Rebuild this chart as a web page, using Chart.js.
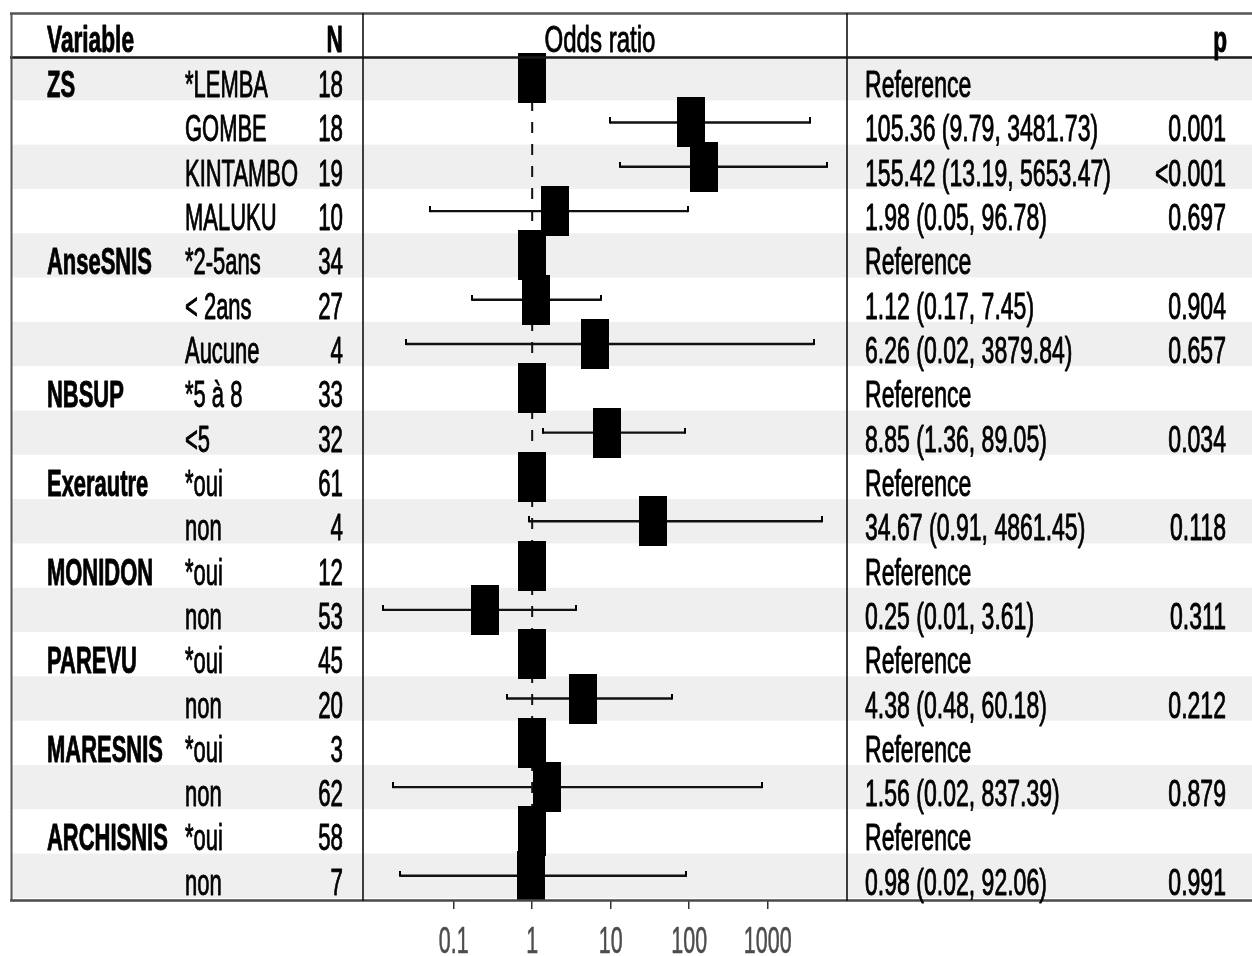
<!DOCTYPE html>
<html><head><meta charset="utf-8">
<script src="https://cdn.jsdelivr.net/npm/chart.js@4.4.0/dist/chart.umd.min.js"></script>
<style>html,body{margin:0;padding:0;background:#fff;}#wrap{width:1252px;height:956px;}</style>
</head><body><div id="wrap"><canvas id="c" width="1252" height="956"></canvas></div>
<script>
const headers = ['Variable', 'N', 'Odds ratio', 'p'];
const variables = ['ZS','','','','AnseSNIS','','','NBSUP','','Exerautre','','MONIDON','','PAREVU','','MARESNIS','','ARCHISNIS',''];
const levels = ['*LEMBA','GOMBE','KINTAMBO','MALUKU','*2-5ans','< 2ans','Aucune','*5 à 8','<5','*oui','non','*oui','non','*oui','non','*oui','non','*oui','non'];
const counts = [18,18,19,10,34,27,4,33,32,61,4,12,53,45,20,3,62,58,7];
const oddsRatio = [1,105.36,155.42,1.98,1,1.12,6.26,1,8.85,1,34.67,1,0.25,1,4.38,1,1.56,1,0.98];
const ciLow = [null,9.79,13.19,0.05,null,0.17,0.025,null,1.36,null,0.91,null,0.0125,null,0.48,null,0.017,null,0.021];
const ciHigh = [null,3481.73,5653.47,96.78,null,7.45,3879.84,null,89.05,null,4861.45,null,3.61,null,60.18,null,837.39,null,92.06];
const estimateLabels = ['Reference','105.36 (9.79, 3481.73)','155.42 (13.19, 5653.47)','1.98 (0.05, 96.78)','Reference','1.12 (0.17, 7.45)','6.26 (0.02, 3879.84)','Reference','8.85 (1.36, 89.05)','Reference','34.67 (0.91, 4861.45)','Reference','0.25 (0.01, 3.61)','Reference','4.38 (0.48, 60.18)','Reference','1.56 (0.02, 837.39)','Reference','0.98 (0.02, 92.06)'];
const pLabels = ['','0.001','<0.001','0.697','','0.904','0.657','','0.034','','0.118','','0.311','','0.212','','0.879','','0.991'];
const tickValues = [0.1, 1, 10, 100, 1000];

const FONT = '"Liberation Sans", Arial, sans-serif';

function makeBox(w, h, fillH) {
  const c = document.createElement('canvas');
  c.width = w; c.height = h;
  const g = c.getContext('2d');
  g.fillStyle = '#000';
  g.fillRect(0, 0, w, fillH === undefined ? h : fillH);
  return c;
}
const squareImg = makeBox(28, 50);
const capImg = makeBox(2, 10, 6);

function txt(ctx, s, x, y, align, bold, sx, size, color, sw) {
  ctx.save();
  ctx.font = (bold ? 'bold ' : '') + size + 'px ' + FONT;
  ctx.fillStyle = color;
  ctx.strokeStyle = color;
  ctx.lineWidth = sw === undefined ? 0.9 : sw;
  ctx.lineJoin = 'round';
  ctx.textBaseline = 'alphabetic';
  ctx.textAlign = align;
  ctx.translate(x, y);
  ctx.scale(sx, 1);
  ctx.fillText(s, 0, 0);
  if (ctx.lineWidth > 0) ctx.strokeText(s, 0, 0);
  ctx.restore();
}

const tablePlugin = {
  id: 'table',
  beforeDraw(chart) {
    const ctx = chart.ctx, ys = chart.scales.y, ca = chart.chartArea;
    ctx.save();
    ctx.fillStyle = '#efefef';
    for (let i = 1; i <= levels.length; i += 2) {
      let t = Math.max(ca.top, ys.getPixelForValue(i - 0.5));
      let b = Math.min(ca.bottom, ys.getPixelForValue(i + 0.5));
      ctx.fillRect(11, t, 1252 - 11, b - t);
    }
    ctx.restore();
  },
  afterDraw(chart) {
    const ctx = chart.ctx, ys = chart.scales.y, xs = chart.scales.x;
    ctx.save();
    ctx.lineCap = 'butt';
    ctx.strokeStyle = '#555'; ctx.lineWidth = 2.5;
    ctx.beginPath(); ctx.moveTo(10, 13.5); ctx.lineTo(1252, 13.5); ctx.stroke();
    ctx.strokeStyle = '#4a4a4a';
    ctx.beginPath(); ctx.moveTo(10, 900.5); ctx.lineTo(1252, 900.5); ctx.stroke();
    ctx.strokeStyle = '#1a1a1a';
    ctx.beginPath(); ctx.moveTo(10, 57.5); ctx.lineTo(1252, 57.5); ctx.stroke();
    ctx.strokeStyle = '#555'; ctx.lineWidth = 2;
    ctx.beginPath(); ctx.moveTo(11.5, 13); ctx.lineTo(11.5, 901); ctx.stroke();
    ctx.strokeStyle = '#111'; ctx.lineWidth = 1.6;
    ctx.beginPath(); ctx.moveTo(363, 13); ctx.lineTo(363, 901); ctx.stroke();
    ctx.beginPath(); ctx.moveTo(847, 13); ctx.lineTo(847, 901); ctx.stroke();
    ctx.restore();
    txt(ctx, headers[0], 47, 52, 'left', true, 0.63, 36, '#000');
    txt(ctx, headers[1], 343, 52, 'right', true, 0.63, 36, '#000');
    txt(ctx, headers[2], 600, 52, 'center', false, 0.65, 37, '#000');
    txt(ctx, headers[3], 1227, 52, 'right', true, 0.63, 36, '#000');
    for (let i = 0; i < levels.length; i++) {
      const y = ys.getPixelForValue(i + 1) + 19;
      if (variables[i]) txt(ctx, variables[i], 47, y, 'left', true, 0.61, 36, '#000');
      txt(ctx, levels[i], 185, y, 'left', false, 0.61, 36, '#000');
      txt(ctx, String(counts[i]), 343, y, 'right', false, 0.62, 36, '#000');
      txt(ctx, estimateLabels[i], 865, y, 'left', false, 0.64, 36, '#000');
      if (pLabels[i]) txt(ctx, pLabels[i], 1226, y, 'right', false, 0.64, 36, '#000');
    }
    xs.ticks.forEach(t => {
      const px = xs.getPixelForValue(t.value);
      txt(ctx, String(t.value), px, 953, 'center', false, 0.58, 37, '#4d4d4d', 0.6);
    });
  }
};

const datasets = [];
datasets.push({
  label: 'OR',
  data: oddsRatio.map((v, i) => ({ x: v, y: i + 1 })),
  pointStyle: squareImg, pointRadius: 3, showLine: false, clip: false, order: 0
});
const capPts = [];
ciLow.forEach((lo, i) => { if (lo !== null) { capPts.push({ x: lo, y: i + 1 }); capPts.push({ x: ciHigh[i], y: i + 1 }); } });
datasets.push({ label: 'caps', data: capPts, pointStyle: capImg, pointRadius: 3, showLine: false, order: 1 });
ciLow.forEach((lo, i) => {
  if (lo === null) return;
  datasets.push({
    label: 'ci' + i,
    data: [{ x: lo, y: i + 1 }, { x: ciHigh[i], y: i + 1 }],
    showLine: true, borderColor: '#111', borderWidth: 2.4, pointRadius: 0, order: 2
  });
});
datasets.push({
  label: 'ref',
  data: [{ x: 1, y: 0.5 }, { x: 1, y: 19.57 }],
  showLine: true, borderColor: '#111', borderWidth: 2, borderDash: [11, 11], pointRadius: 0, order: 3
});

new Chart(document.getElementById('c'), {
  type: 'scatter',
  data: { datasets },
  options: {
    responsive: false, animation: false, devicePixelRatio: 1,
    layout: { padding: { left: 363, right: 405, top: 56, bottom: 47 } },
    plugins: { legend: { display: false }, tooltip: { enabled: false } },
    scales: {
      x: {
        type: 'logarithmic', min: 0.007, max: 10230,
        afterBuildTicks: (s) => { s.ticks = tickValues.map(v => ({ value: v })); },
        afterFit: (s) => { s.height = 8; },
        ticks: { display: false },
        grid: { drawOnChartArea: false, drawTicks: true, tickLength: 8, color: '#333', lineWidth: 1.5 },
        border: { display: false }
      },
      y: { type: 'linear', min: 0.5, max: 19.57, reverse: true, display: false }
    }
  },
  plugins: [tablePlugin]
});
</script></body></html>
